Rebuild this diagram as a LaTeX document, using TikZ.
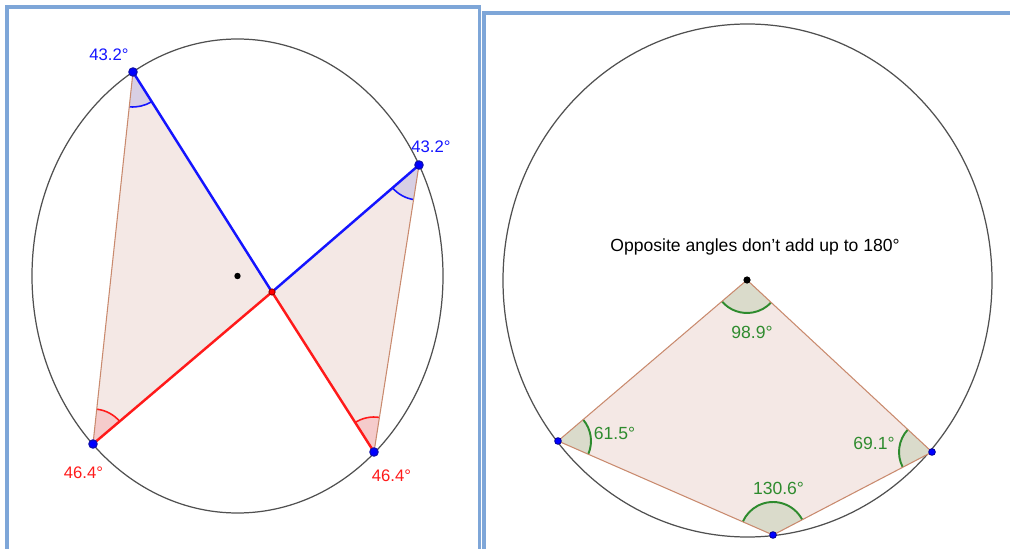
\documentclass[tikz,border=0pt]{standalone}
\usepackage{fontspec}
\setmainfont{Liberation Sans}
\usepackage{tikz}
\usetikzlibrary{angles}
\definecolor{framblue}{HTML}{7EA6D8}
\definecolor{polyfill}{HTML}{F4E8E5}
\definecolor{polyedge}{HTML}{C98A6E}
\definecolor{rimgray}{HTML}{505050}
\definecolor{geoblue}{HTML}{1414FF}
\definecolor{geored}{HTML}{FF1A1A}
\definecolor{geogreen}{HTML}{2E8B2E}
\definecolor{angblue}{HTML}{D8CFE4}
\definecolor{angred}{HTML}{F5CBCB}
\definecolor{anggreen}{HTML}{DADBCB}
\tikzset{
  panel/.style={draw=framblue, line width=2pt},
  rim/.style={draw=rimgray, line width=0.7pt},
  chord/.style={draw=polyedge, line width=0.6pt},
  seg/.style={draw=#1, line width=1.4pt},
  lbl/.style={font=\fontsize{9.5}{11}\selectfont, text=#1, inner sep=0pt},
  note/.style={font=\fontsize{10}{12}\selectfont, text=black, inner sep=0pt},
}

\begin{document}
\begin{tikzpicture}[x=0.02cm, y=0.02cm,
  ang/.style={draw=#1, line width=0.9pt, angle radius=0.7cm}]
  \useasboundingbox (0,0) rectangle (1010,548);
  \fill[white] (0,0) rectangle (1010,548);
  % left panel: two inscribed angles on the same arc
  \coordinate (Lc) at (237.5,272);
  \coordinate (A) at (133,476);
  \coordinate (B) at (419,383);
  \coordinate (C) at (93,104);
  \coordinate (D) at (374,96);
  \coordinate (O) at (272,256);
  \fill[polyfill] (A) -- (O) -- (C) -- cycle;
  \fill[polyfill] (B) -- (O) -- (D) -- cycle;
  \draw[rim] (Lc) ellipse [x radius=205.5, y radius=237];
  \pic[ang=geoblue, fill=angblue] {angle=C--A--O};
  \pic[ang=geoblue, fill=angblue] {angle=O--B--D};
  \pic[ang=geored, fill=angred] {angle=O--C--A};
  \pic[ang=geored, fill=angred] {angle=B--D--O};
  \draw[chord] (A) -- (C);
  \draw[chord] (B) -- (D);
  \draw[seg=geoblue] (A) -- (O) (B) -- (O);
  \draw[seg=geored] (C) -- (O) (D) -- (O);
  \foreach \p in {A,B,C,D} { \fill[geoblue!70!black] (\p) circle (4.8); \fill[blue] (\p) circle (3.4); }
  \fill[black] (Lc) circle (3.2);
  \fill[red!60!black] (O) circle (3.6); \fill[red] (O) circle (2.4);
  \node[lbl=geoblue] (la) at (109,493.5) {43.2°};
  \node[lbl=geoblue] (lb) at (431,401) {43.2°};
  \node[lbl=geored] (lc) at (83.5,75.5) {46.4°};
  \node[lbl=geored] (ld) at (391.5,72) {46.4°};
  % right panel: quadrilateral with one vertex at the centre
  \coordinate (Rc) at (747.5,267.5);
  \coordinate (P) at (747,268);
  \coordinate (Q) at (558,107);
  \coordinate (R) at (773,13);
  \coordinate (S) at (932,96);
  \fill[polyfill] (P) -- (Q) -- (R) -- (S) -- cycle;
  \draw[rim] (Rc) ellipse [x radius=244.5, y radius=256.5];
  \foreach \a/\b/\c in {Q/P/S, R/Q/P, S/R/Q, P/S/R} { \pic[ang=geogreen, fill=anggreen, angle radius=0.66cm, line width=1.1pt] {angle=\a--\b--\c}; }
  \draw[chord] (P) -- (Q) -- (R) -- (S) -- cycle;
  \foreach \p in {Q,R,S} { \fill[blue!60!black] (\p) circle (3.8); \fill[blue] (\p) circle (2.8); }
  \fill[black] (P) circle (3.6);
  \node[note] (msg) at (755,301) {Opposite angles don't add up to 180°};
  \node[lbl=geogreen, font=\fontsize{10}{12}\selectfont] (lp) at (752,215.5) {98.9°};
  \node[lbl=geogreen, font=\fontsize{10}{12}\selectfont] (lq) at (614.5,114.5) {61.5°};
  \node[lbl=geogreen, font=\fontsize{10}{12}\selectfont] (ls) at (874,104.5) {69.1°};
  \node[lbl=geogreen, font=\fontsize{10}{12}\selectfont] (lr) at (778.5,60) {130.6°};
  % picture frames
  \draw[panel] (7,-10) rectangle (479.5,541);
  \draw[panel] (484,-10) rectangle (1020,535);
\end{tikzpicture}
\end{document}
